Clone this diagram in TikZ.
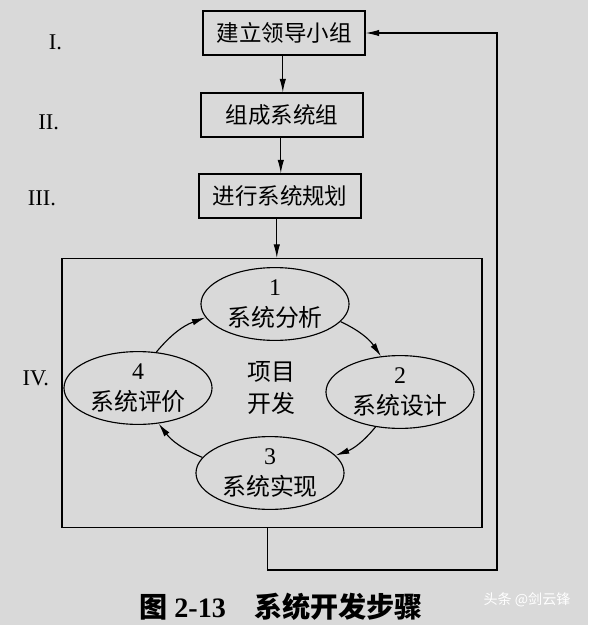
\documentclass[tikz,border=0pt]{standalone}
\usepackage{fontspec}
\setmainfont{Liberation Serif}
\newfontfamily\cjk{Noto Sans CJK SC}
\usetikzlibrary{arrows.meta,shapes.geometric}

\begin{document}
\begin{tikzpicture}[
		x=0.025cm, y=-0.025cm,
		arr/.style={draw, thick, -{Latex[length=3.4mm,width=1.6mm]}},
		stepbox/.style={draw, thick, minimum width=4.05cm, minimum height=1.1cm, font=\fontsize{16}{19}\selectfont\cjk},
		phase/.style={ellipse, draw, thick, minimum width=3.7cm, minimum height=1.82cm, align=center, inner sep=0pt, font=\fontsize{17}{22}\selectfont},
		numeral/.style={anchor=east, font=\fontsize{16}{19}\selectfont}
		]
		% background and size
		\fill[black!15] (0,0) rectangle (588,625);
		\useasboundingbox (0,0) rectangle (588,625);

		% the three steps
		\node[stepbox] (lead) at (284,33) {建立领导小组};
		\node[stepbox] (group) at (282,115) {组成系统组};
		\node[stepbox] (plan) at (280,196) {进行系统规划};

		\node[numeral] (n1) at (67,42) {I.};
		\node[numeral] (n2) at (64,122) {II.};
		\node[numeral] (n3) at (61,198) {III.};
		\node[numeral] (n4) at (54,378) {IV.};

		% the project frame
		\node[draw, thick, minimum width=10.5cm, minimum height=6.72cm] (frame) at (272,393) {};

		\node[phase] (ana) at (275,304) {1\\{\cjk 系统分析}};
		\node[phase] (des) at (400,392) {2\\{\cjk 系统设计}};
		\node[phase] (imp) at (270,473) {3\\{\cjk 系统实现}};
		\node[phase] (eva) at (138,388) {4\\{\cjk 系统评价}};
		\node[align=center, font=\fontsize{17}{23}\selectfont\cjk] (proj) at (271,388) {项目\\开发};

		\draw[arr] ([xshift=-0.03cm]lead.south) -- ([xshift=-0.03cm]lead.south |- group.north);
		\draw[arr] ([xshift=-0.03cm]group.south) -- ([xshift=-0.03cm]group.south |- plan.north);
		\draw[arr] ([xshift=-0.08cm]plan.south) -- ([xshift=-0.08cm]plan.south |- frame.north);

		\draw[arr] (ana.-15) to[bend left=15] (des.118);
		\draw[arr] (des.235) to[bend left=15] (imp.15);
		\draw[arr] (imp.167) to[bend left=15] (eva.-60);
		\draw[arr] (eva.63) to[bend left=15] (ana.191);

		% feedback to the first step
		\coordinate (fb) at (497,570);
		\draw[arr] ([xshift=-0.12cm]frame.south) |- (fb) |- (lead.east);

		% caption
		\node[font=\fontsize{20}{24}\selectfont\bfseries] (cap) at (281,607) {{\cjk\bfseries 图} 2-13\quad{\cjk\bfseries 系统开发步骤}};
		\node[text=white, font=\fontsize{10}{12}\selectfont\cjk] (mark) at (527,600) {头条 @剑云锋};
\end{tikzpicture}
\end{document}
